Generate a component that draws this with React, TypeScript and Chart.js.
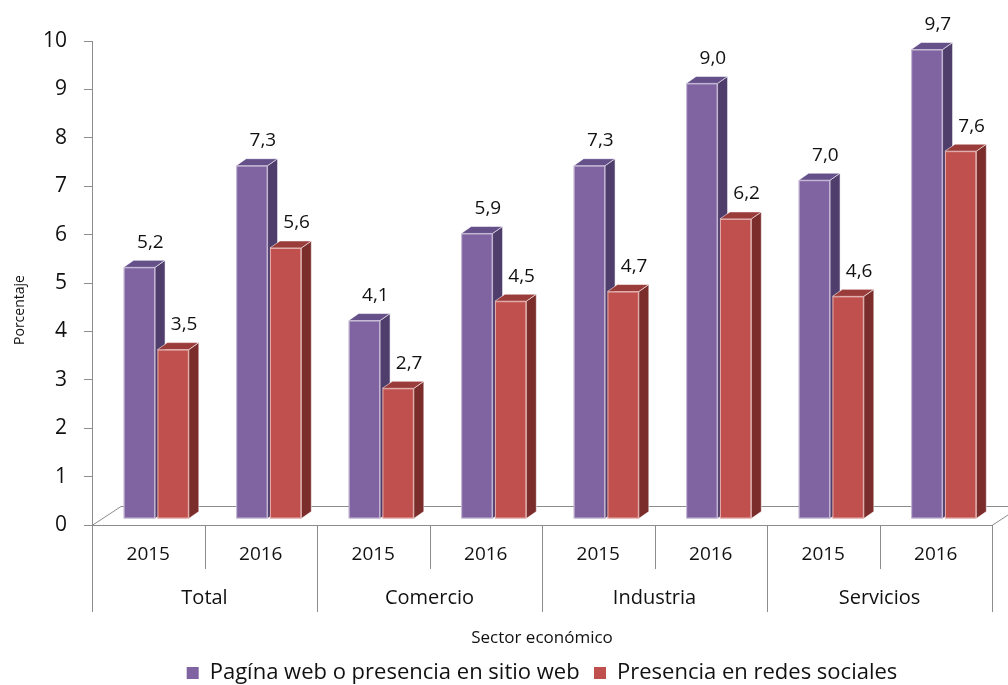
import React, { useEffect, useRef } from 'react';
import { Chart, registerables } from 'chart.js';

Chart.register(...registerables);

// ---- data ----
const categories = ['2015', '2016', '2015', '2016', '2015', '2016', '2015', '2016'];
const sectors = ['Total', 'Comercio', 'Industria', 'Servicios'];
const webValues = [5.2, 7.3, 4.1, 5.9, 7.3, 9.0, 7.0, 9.7];
const socialValues = [3.5, 5.6, 2.7, 4.5, 4.7, 6.2, 4.6, 7.6];
const seriesNames = ['Pagína web o presencia en sitio web', 'Presencia en redes sociales'];
const yTitle = 'Porcentaje';
const xTitle = 'Sector económico';

// ---- styles ----
const FONT = "'Open Sans', 'DejaVu Sans', sans-serif";
const AXIS = '#8c8c8c';
const TEXT = '#111111';
const FRONT = ['#8064A2', '#C0504D'];
const SIDE = ['#4F3D6C', '#7B2D2B'];
const TOP = ['#65508A', '#9A3C3A'];
const EDGE = 'rgba(255,255,255,0.55)';

// 3D geometry (pixels)
const FACE_DX = 8;   // front face offset from the 2D slot
const FACE_DY = -6;
const DEPTH_DX = 10; // bar depth
const DEPTH_DY = -7;
const FLOOR_DX = 29;
const FLOOR_DY = -19;

const fmt = (v: number) => v.toFixed(1).replace('.', ',');

const bars3d = {
  id: 'bars3d',
  beforeDatasetsDraw(chart: any) {
    const ctx = chart.ctx as CanvasRenderingContext2D;
    const { left, right, bottom } = chart.chartArea;
    ctx.save();
    // floor
    ctx.strokeStyle = AXIS;
    ctx.lineWidth = 1;
    ctx.beginPath();
    ctx.moveTo(left, bottom + 0.5);
    ctx.lineTo(left + FLOOR_DX, bottom + FLOOR_DY + 0.5);
    ctx.lineTo(right + FLOOR_DX, bottom + FLOOR_DY + 0.5);
    ctx.moveTo(right, bottom + 0.5);
    ctx.lineTo(right + FLOOR_DX, bottom + FLOOR_DY + 0.5);
    ctx.stroke();

    const metas = chart.data.datasets.map((_: any, i: number) => chart.getDatasetMeta(i));
    const n = chart.data.labels.length;
    for (let j = 0; j < n; j++) {
      for (let i = 0; i < metas.length; i++) {
        const el = metas[i].data[j];
        const p = el.getProps(['x', 'y', 'base', 'width'], true);
        const l = p.x - p.width / 2 + FACE_DX;
        const r = p.x + p.width / 2 + FACE_DX;
        const t = p.y + FACE_DY;
        const b = p.base + FACE_DY;
        ctx.lineWidth = 1;
        ctx.strokeStyle = EDGE;
        // side
        ctx.beginPath();
        ctx.moveTo(r, t);
        ctx.lineTo(r + DEPTH_DX, t + DEPTH_DY);
        ctx.lineTo(r + DEPTH_DX, b + DEPTH_DY);
        ctx.lineTo(r, b);
        ctx.closePath();
        ctx.fillStyle = SIDE[i];
        ctx.fill();
        ctx.stroke();
        // top
        ctx.beginPath();
        ctx.moveTo(l, t);
        ctx.lineTo(l + DEPTH_DX, t + DEPTH_DY);
        ctx.lineTo(r + DEPTH_DX, t + DEPTH_DY);
        ctx.lineTo(r, t);
        ctx.closePath();
        ctx.fillStyle = TOP[i];
        ctx.fill();
        ctx.stroke();
        // front
        ctx.fillStyle = FRONT[i];
        ctx.fillRect(l, t, r - l, b - t);
        ctx.strokeRect(l + 0.5, t + 0.5, r - l - 1, b - t - 1);
        // label
        const v = chart.data.datasets[i].data[j];
        ctx.fillStyle = TEXT;
        ctx.font = `19px ${FONT}`;
        ctx.textAlign = 'center';
        ctx.textBaseline = 'middle';
        ctx.fillText(fmt(v), (l + r) / 2 + 11, t + DEPTH_DY - 18);
      }
    }
    ctx.restore();
    return false;
  },
  afterDraw(chart: any) {
    const ctx = chart.ctx as CanvasRenderingContext2D;
    const xs = chart.scales.x;
    const { bottom } = chart.chartArea;
    const n = chart.data.labels.length;
    ctx.save();
    ctx.strokeStyle = AXIS;
    ctx.lineWidth = 1;
    ctx.beginPath();
    for (let j = 0; j <= n; j++) {
      const x = Math.round(xs.left + (j * (xs.right - xs.left)) / n) + 0.5;
      const len = j % 2 === 0 ? 87 : 44;
      ctx.moveTo(x, bottom);
      ctx.lineTo(x, bottom + len);
    }
    ctx.stroke();
    // y axis title
    ctx.fillStyle = TEXT;
    ctx.font = `14px ${FONT}`;
    ctx.textAlign = 'center';
    ctx.textBaseline = 'middle';
    ctx.translate(20, 310);
    ctx.rotate(-Math.PI / 2);
    ctx.fillText(yTitle, 0, 0);
    ctx.restore();
  },
};

export default function App() {
  const ref = useRef<HTMLCanvasElement | null>(null);
  useEffect(() => {
    if (!ref.current) return;
    const chart = new Chart(ref.current, {
      type: 'bar',
      data: {
        labels: categories,
        datasets: [
          { label: seriesNames[0], data: webValues, backgroundColor: FRONT[0] },
          { label: seriesNames[1], data: socialValues, backgroundColor: FRONT[1] },
        ],
      },
      options: {
        responsive: false,
        animation: false,
        layout: { padding: { top: 41, right: 16, bottom: -9, left: 0 } },
        datasets: { bar: { categoryPercentage: 0.6, barPercentage: 0.93 } } as any,
        scales: {
          x: {
            type: 'category',
            position: 'bottom',
            offset: true,
            grid: { display: false, drawTicks: false },
            border: { display: true, color: AXIS },
            ticks: { font: { family: FONT, size: 19 }, color: TEXT, padding: 18, maxRotation: 0, autoSkip: false },
            afterFit: (s: any) => { s.height = 44; },
          },
          x2: {
            type: 'category',
            position: 'bottom',
            labels: sectors,
            offset: true,
            grid: { display: false, drawTicks: false },
            border: { display: false },
            ticks: { font: { family: FONT, size: 20 }, color: TEXT, padding: 17, maxRotation: 0, autoSkip: false },
            title: { display: true, text: xTitle, font: { family: FONT, size: 17 }, color: TEXT, padding: { top: 0, bottom: 11 } },
            afterFit: (s: any) => { s.height = 90; },
          },
          y: {
            min: 0,
            max: 10,
            ticks: { stepSize: 1, font: { family: FONT, size: 21 }, color: TEXT, padding: 17 },
            grid: { drawOnChartArea: false, tickLength: 8, color: AXIS },
            border: { color: AXIS },
            afterFit: (s: any) => { s.width = 92; },
          },
        } as any,
        plugins: {
          legend: {
            position: 'bottom',
            fullSize: false,
            labels: {
              boxWidth: 12,
              boxHeight: 12,
              padding: 3,
              color: TEXT,
              font: { family: FONT, size: 22 },
              generateLabels: (c: any) => {
                const items = Chart.defaults.plugins.legend.labels.generateLabels(c);
                return items.map((it: any, k: number) => ({
                  ...it,
                  text: k < items.length - 1 ? it.text + '  ' : it.text,
                  lineWidth: 0,
                }));
              },
            },
          },
          tooltip: { enabled: false },
        },
      },
      plugins: [bars3d],
    });
    return () => chart.destroy();
  }, []);
  return (
    <div style={{ position: 'absolute', left: 0, top: 0, width: 1008, height: 685, background: '#fff' }}>
      <canvas ref={ref} width={1008} height={685} />
    </div>
  );
}
